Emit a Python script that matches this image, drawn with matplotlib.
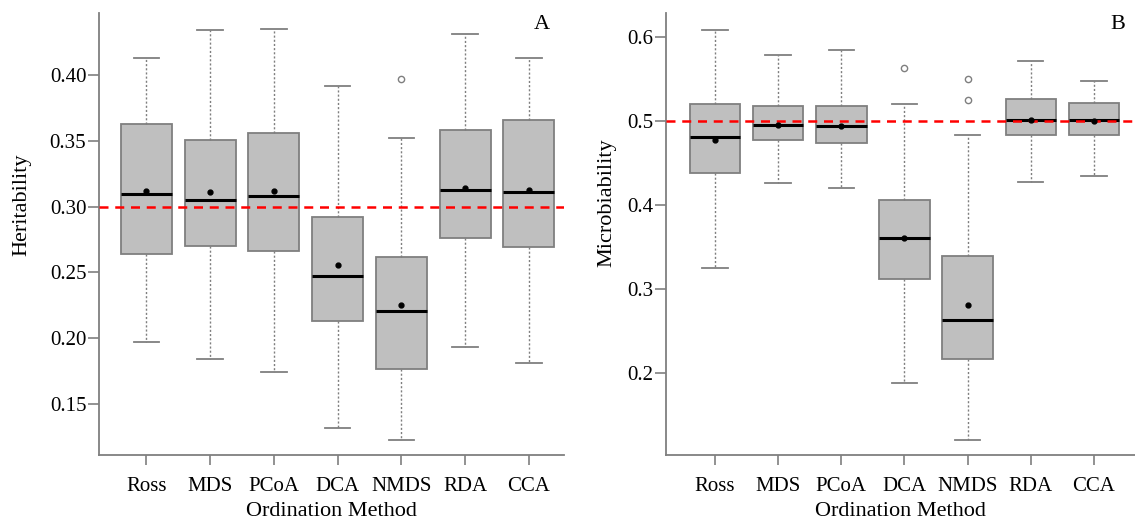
import numpy as np
import matplotlib
matplotlib.use("Agg")
import matplotlib.pyplot as plt

plt.rcParams['font.family'] = ['Liberation Serif', 'DejaVu Serif']

methods = ["Ross", "MDS", "PCoA", "DCA", "NMDS", "RDA", "CCA"]

# panel A - heritability
h_lo   = [0.197, 0.184, 0.174, 0.132, 0.123, 0.193, 0.181]
h_q1   = [0.264, 0.270, 0.266, 0.213, 0.177, 0.276, 0.269]
h_med  = [0.310, 0.305, 0.308, 0.247, 0.221, 0.313, 0.311]
h_q3   = [0.363, 0.351, 0.356, 0.292, 0.262, 0.358, 0.366]
h_hi   = [0.413, 0.434, 0.435, 0.392, 0.352, 0.431, 0.413]
h_mean = [0.312, 0.311, 0.312, 0.256, 0.225, 0.314, 0.313]
h_out  = [[], [], [], [], [0.397], [], []]

# panel B - microbiability
m_lo   = [0.325, 0.426, 0.420, 0.188, 0.120, 0.428, 0.435]
m_q1   = [0.438, 0.477, 0.474, 0.312, 0.216, 0.484, 0.483]
m_med  = [0.481, 0.496, 0.494, 0.361, 0.263, 0.501, 0.502]
m_q3   = [0.520, 0.518, 0.518, 0.406, 0.339, 0.526, 0.522]
m_hi   = [0.609, 0.579, 0.585, 0.520, 0.484, 0.572, 0.548]
m_mean = [0.478, 0.495, 0.494, 0.361, 0.281, 0.502, 0.500]
m_out  = [[], [], [], [0.564], [0.550, 0.525], [], []]

grey = "#7f7f7f"


def make_stats(lo, q1, med, q3, hi, mean, out):
    return [dict(whislo=lo[i], q1=q1[i], med=med[i], q3=q3[i], whishi=hi[i],
                 mean=mean[i], fliers=out[i], label=methods[i])
            for i in range(len(methods))]


def draw(ax, stats, ref, ylim, xlim, yticks, fmt, tag, tagx):
    pos = np.arange(1, len(methods) + 1)
    ax.bxp(stats, positions=pos, widths=0.8, capwidths=0.4, patch_artist=True,
           showmeans=True,
           boxprops=dict(facecolor="#bfbfbf", edgecolor=grey, linewidth=1.3),
           whiskerprops=dict(color=grey, linewidth=1, linestyle=(0, (1.5, 1.5))),
           capprops=dict(color=grey, linewidth=1.3),
           medianprops=dict(color="black", linewidth=2.2),
           meanprops=dict(marker="o", markerfacecolor="black", markeredgecolor="black",
                          markersize=3.5, zorder=5),
           flierprops=dict(marker="o", markerfacecolor="none", markeredgecolor=grey,
                           markersize=4.5, markeredgewidth=1))
    ax.axhline(ref, color="red", linestyle=(0, (3.6, 2.7)), linewidth=1.8, zorder=4)
    ax.set_xlim(*xlim)
    ax.set_ylim(*ylim)
    ax.set_yticks(yticks)
    ax.set_yticklabels([fmt % v for v in yticks])
    ax.set_xticks(pos)
    ax.set_xticklabels(methods)
    for s in ["top", "right"]:
        ax.spines[s].set_visible(False)
    for s in ["left", "bottom"]:
        ax.spines[s].set_color(grey)
        ax.spines[s].set_linewidth(1.3)
    ax.tick_params(axis="y", length=8, width=1.2, color=grey, pad=1, labelsize=15)
    ax.tick_params(axis="x", length=7, width=1.2, color=grey, pad=9, labelsize=15)
    ax.set_xlabel("Ordination Method", fontsize=16, labelpad=4)
    ax.text(tagx, 0.975, tag, transform=ax.transAxes,
            fontsize=16, ha="center", va="center")


fig = plt.figure(figsize=(11.35, 5.2), dpi=100)
axA = fig.add_axes([0.0871, 0.125, 0.4098, 0.85])
axB = fig.add_axes([0.5865, 0.125, 0.4135, 0.85])

draw(axA, make_stats(h_lo, h_q1, h_med, h_q3, h_hi, h_mean, h_out), 0.30,
     (0.1113, 0.4472), (0.253, 7.55), [0.15, 0.20, 0.25, 0.30, 0.35, 0.40], "%.2f",
     "A", 0.952)
draw(axB, make_stats(m_lo, m_q1, m_med, m_q3, m_hi, m_mean, m_out), 0.50,
     (0.102, 0.629), (0.22, 7.65), [0.2, 0.3, 0.4, 0.5, 0.6], "%.1f",
     "B", 0.964)

fig.text(22 / 1135, 1 - 205 / 520, "Heritability", rotation=90, fontsize=16,
         ha="center", va="center")
fig.text(607 / 1135, 1 - 203 / 520, "Microbiability", rotation=90, fontsize=16,
         ha="center", va="center")

fig.savefig("out.png", dpi=100)
